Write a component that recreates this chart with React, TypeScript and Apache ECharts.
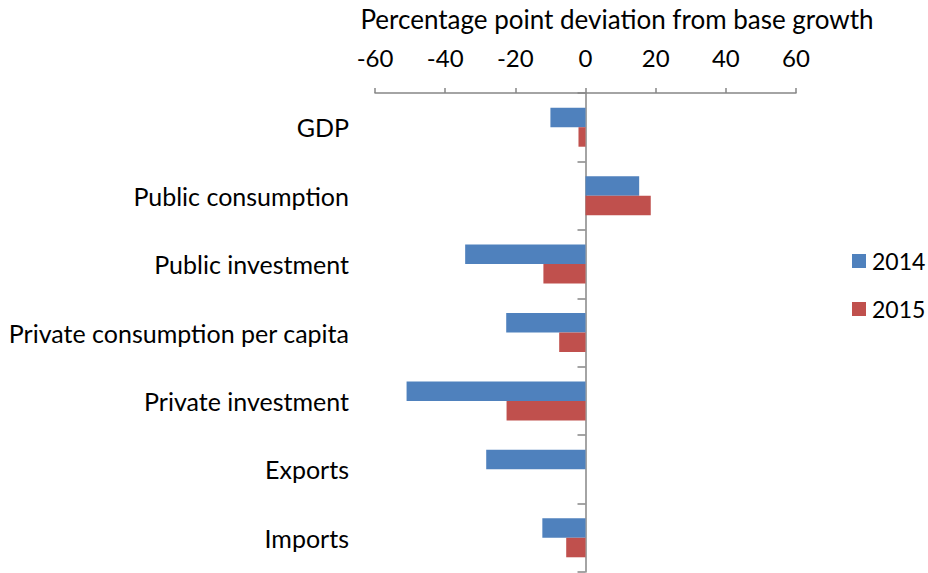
import React, { useEffect, useRef } from "react";
import * as echarts from "echarts";

const categories = [
  "GDP",
  "Public consumption",
  "Public investment",
  "Private consumption per capita",
  "Private investment",
  "Exports",
  "Imports",
];
const series2014 = [-10, 15.3, -34.3, -22.6, -51, -28.3, -12.3];
const series2015 = [-2, 18.6, -12, -7.5, -22.5, 0, -5.5];
const seriesNames = ["2014", "2015"];
const axisTitle = "Percentage point deviation from base growth";
const xMin = -60;
const xMax = 60;
const xStep = 20;

const FONT = "Lato";
const AXIS_GREY = "#868686";

export default function App() {
  const ref = useRef<HTMLDivElement>(null);
  useEffect(() => {
    if (!ref.current) return;
    const chart = echarts.init(ref.current, undefined, { renderer: "svg" });
    chart.setOption({
      animation: false,
      backgroundColor: "#fff",
      textStyle: { fontFamily: FONT },
      graphic: [
        {
          type: "text",
          x: 617,
          y: 19,
          style: {
            text: axisTitle,
            fontFamily: FONT,
            fontSize: 26,
            fill: "#000",
            align: "center",
            verticalAlign: "middle",
          },
        },
      ],
      legend: {
        orient: "vertical",
        left: 852,
        top: 249,
        padding: 0,
        itemWidth: 14,
        itemHeight: 14,
        itemGap: 24,
        icon: "rect",
        data: seriesNames,
        textStyle: { fontFamily: FONT, fontSize: 23, lineHeight: 24, color: "#000", padding: [0, 0, 0, 1] },
      },
      grid: { left: 375, right: 132, top: 93, bottom: 1, containLabel: false },
      xAxis: {
        type: "value",
        position: "top",
        min: xMin,
        max: xMax,
        interval: xStep,
        splitLine: { show: false },
        axisLine: { show: true, lineStyle: { color: AXIS_GREY, width: 1.5 } },
        axisTick: { show: true, length: 5, lineStyle: { color: AXIS_GREY, width: 1.5 } },
        axisLabel: { fontFamily: FONT, fontSize: 24, color: "#000", margin: 24 },
      },
      yAxis: [
        {
          type: "category",
          inverse: true,
          data: categories,
          position: "left",
          axisLine: { show: false, onZero: false },
          axisTick: { show: false },
          axisLabel: { fontFamily: FONT, fontSize: 25, color: "#000", margin: 26 },
        },
        {
          type: "category",
          inverse: true,
          data: categories,
          position: "left",
          axisLine: { show: true, onZero: true, lineStyle: { color: AXIS_GREY, width: 1.5 } },
          axisTick: { show: true, length: 8, lineStyle: { color: AXIS_GREY, width: 1.5 } },
          axisLabel: { show: false },
        },
      ],
      series: [
        {
          name: seriesNames[0],
          type: "bar",
          yAxisIndex: 0,
          data: series2014,
          barWidth: 19.5,
          barGap: "0%",
          itemStyle: { color: "#4F81BD" },
        },
        {
          name: seriesNames[1],
          type: "bar",
          yAxisIndex: 0,
          data: series2015,
          barWidth: 19.5,
          barGap: "0%",
          itemStyle: { color: "#C0504D" },
        },
      ],
    });
    return () => chart.dispose();
  }, []);
  return (
    <div
      ref={ref}
      style={{ position: "fixed", left: 0, top: 0, width: 928, height: 573 }}
    />
  );
}
